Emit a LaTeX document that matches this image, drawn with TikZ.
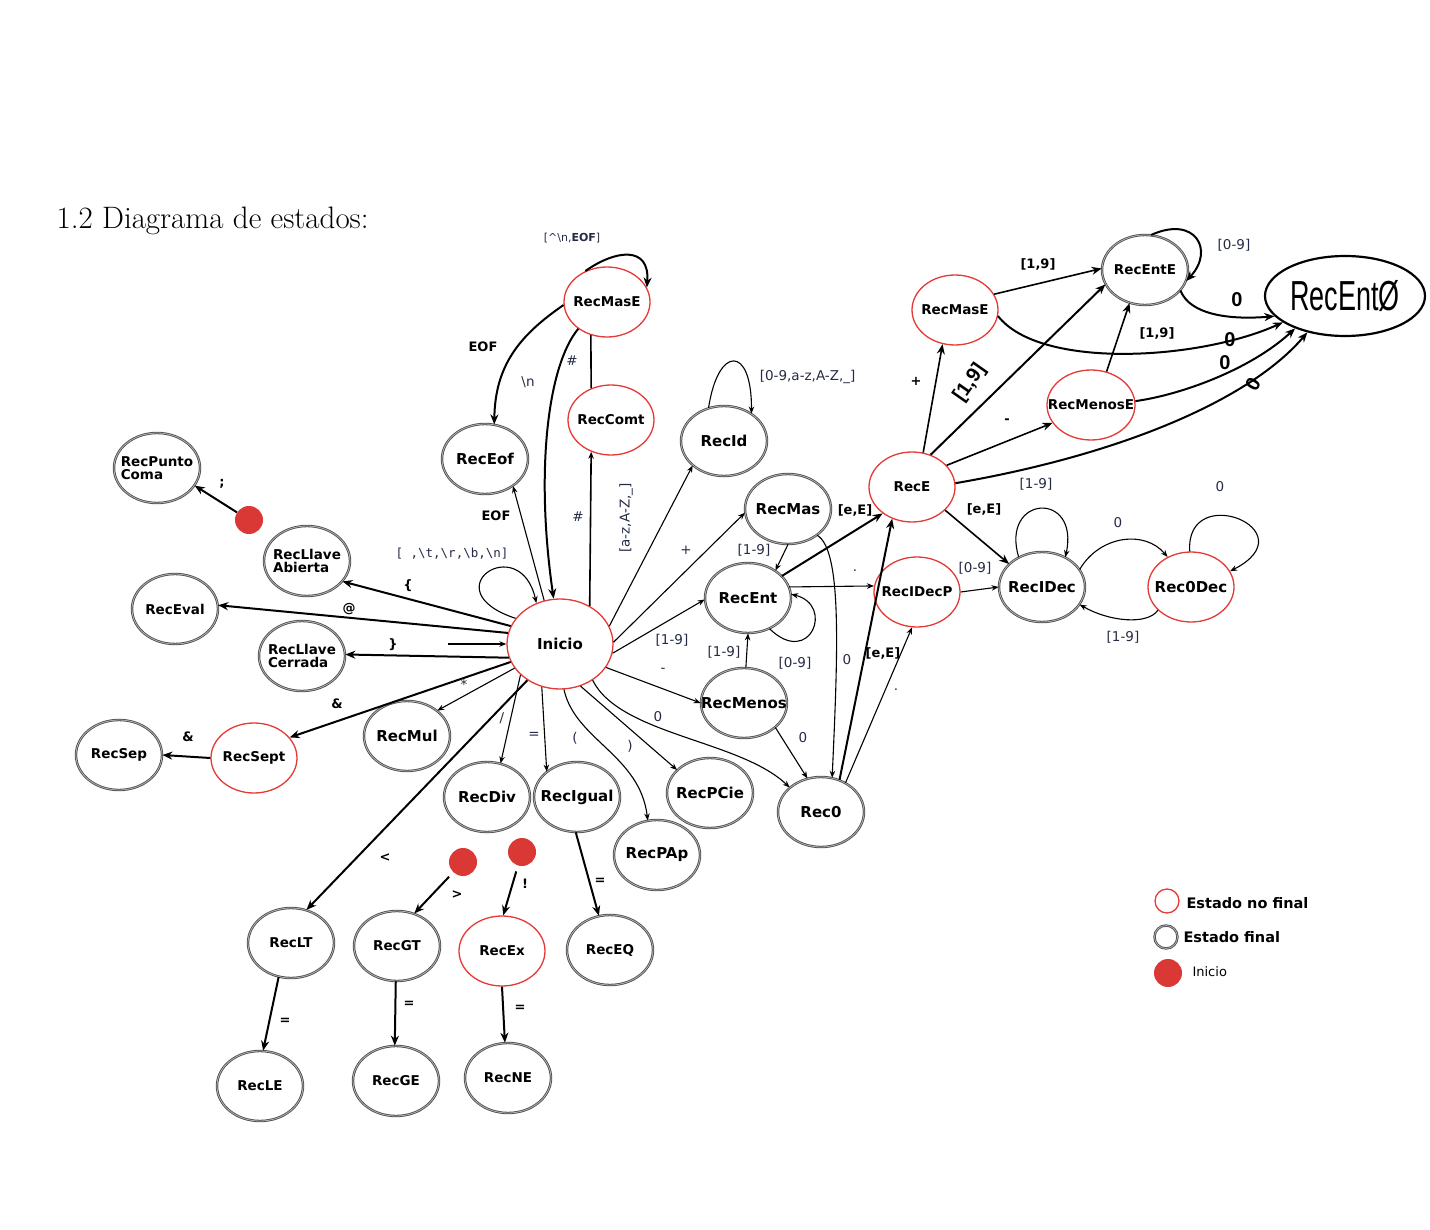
\documentclass[tikz,border=0pt]{standalone}
\usepackage{fontspec}
\usepackage{tikz}
\usetikzlibrary{shapes.geometric,arrows.meta}
\newfontfamily\djv{DejaVu Sans}
\newfontfamily\djvmono{DejaVu Sans Mono}
\newfontfamily\lib{Liberation Sans}
\definecolor{EdoRojo}{HTML}{E53A35}
\definecolor{EdoGris}{HTML}{4A4A4A}
\definecolor{EdoPunto}{HTML}{D93834}
\definecolor{EtqAzul}{HTML}{252B45}

\tikzset{
  estado/.style={ellipse, minimum width=86pt, minimum height=70pt, inner sep=0pt, fill=white,
    font=\djv\bfseries\fontsize{13.5}{16}\selectfont,
    execute at begin node={\hbox to 0pt\bgroup\hss}, execute at end node={\hss\egroup}},
  nofinal/.style={estado, draw=EdoRojo, line width=1.3pt},
  final/.style={estado, draw=EdoGris, double=black!30, double distance=0.8pt, line width=0.8pt},
  grande/.style={font=\djv\bfseries\fontsize{15}{17}\selectfont},
  cero/.style={ellipse, draw, line width=2.2pt, minimum width=160pt, minimum height=80pt, inner sep=0pt},
  punto/.style={circle, fill=EdoPunto, minimum size=28pt, inner sep=0pt},
  arr/.style={line width=1.1pt, -{Stealth[length=7pt,width=5.5pt]}},
  arrb/.style={line width=2pt, -{Stealth[length=10pt,width=8pt]}},
  lbl/.style={text=EtqAzul, font=\djv\fontsize{13.5}{15}\selectfont},
  lblb/.style={font=\djv\bfseries\fontsize{13}{15}\selectfont},
  mano/.style={font=\lib\bfseries\fontsize{20}{22}\selectfont},
  leyenda/.style={anchor=west, font=\djv\bfseries\fontsize{14.5}{16}\selectfont}
}

\begin{document}
\begin{tikzpicture}[x=1pt,y=-1pt]
\path[use as bounding box] (0,0) rectangle (1430,1230);
\node[anchor=base west, font=\fontsize{31}{33}\selectfont] (titulo) at (53,229) {1.2 Diagrama de estados:};

\node[nofinal] (cmt) at (607,302) {RecMasE};
\node[nofinal] (comt) at (611,420) {RecComt};
\node[final, grande] (eof) at (485,459) {RecEof};
\node[final, grande] (recid) at (724,441) {RecId};
\node[final] (punto) at (157,468) {\shortstack[l]{RecPunto\\Coma}};
\node[final] (llab) at (307,561) {\shortstack[l]{RecLlave\\Abierta}};
\node[final] (eval) at (175,609) {RecEval};
\node[final] (llce) at (302,656) {\shortstack[l]{RecLlave\\Cerrada}};
\node[nofinal, grande, minimum width=106pt, minimum height=90pt] (ini) at (560,644) {Inicio};
\node[final, grande] (mas) at (788,509) {RecMas};
\node[final, grande] (ent) at (748,598) {RecEnt};
\node[final, grande] (menos) at (744,703) {RecMenos};
\node[nofinal] (rece) at (912,487) {RecE};
\node[nofinal] (decp) at (917,592) {RecIDecP};
\node[final, grande] (idec) at (1042,587) {RecIDec};
\node[nofinal, grande] (odec) at (1191,587) {Rec0Dec};
\node[nofinal] (mase) at (955,310) {RecMasE};
\node[final] (ente) at (1145,270) {RecEntE};
\node[nofinal, minimum width=88pt] (menose) at (1091,405) {RecMenosE};
\node[cero] (ent0) at (1345,296) {\scalebox{0.9}[1.4]{\lib\fontsize{30}{30}\selectfont RecEntØ}};
\node[final] (sep) at (119,755) {RecSep};
\node[nofinal] (sept) at (254,758) {RecSept};
\node[final, grande] (mul) at (407,736) {RecMul};
\node[final, grande] (div) at (487,797) {RecDiv};
\node[final, grande] (igual) at (577,797) {RecIgual};
\node[final, grande] (pcie) at (710,793) {RecPCie};
\node[final, grande] (pap) at (657,855) {RecPAp};
\node[final, grande] (rec0) at (821,812) {Rec0};
\node[final] (lt) at (291,943) {RecLT};
\node[final] (gt) at (397,946) {RecGT};
\node[nofinal] (ex) at (502,951) {RecEx};
\node[final] (eq) at (610,950) {RecEQ};
\node[final] (le) at (260,1086) {RecLE};
\node[final] (ge) at (396,1081) {RecGE};
\node[final] (ne) at (508,1078) {RecNE};

\node[punto] (p1) at (249,520) {};
\node[punto] (p2) at (463,862) {};
\node[punto] (p3) at (522,852) {};
\coordinate (entrada) at (448,644);

\draw[arrb] (cmt.125) .. controls (615,250) and (650,245) .. (cmt.20) node[lbl, at={(572,238)}, font=\djv\fontsize{11}{13}\selectfont] {[\textasciicircum\textbackslash n,\textbf{EOF}]};
\draw[arrb] (cmt.184) .. controls (520,335) and (495,365) .. (eof.75) node[lblb, at={(483,347)}] {EOF};
\draw[arrb] (cmt.223) .. controls (548,365) and (535,470) .. (ini.98) node[lbl, at={(528,382)}] {\textbackslash n};
\draw[line width=1.6pt] (comt.122) -- (cmt.244) node[lbl, at={(572,361)}] {\#};
\draw[arr, line width=1.6pt] (ini.52) -- (comt.238) node[lbl, at={(578,517)}] {\#};
\draw[arr] (ini.110) -- (eof.316) node[lblb, at={(496,516)}] {EOF};
\draw[arr] (ini.150) .. controls (430,590) and (520,530) .. (ini.120) node[at={(452,554)}, text=EtqAzul, font=\djvmono\fontsize{12.5}{14}\selectfont] {[ ,\textbackslash t,\textbackslash r,\textbackslash b,\textbackslash n]};
\draw[arr] (ini.20) -- (recid.218) node[lbl, rotate=90, at={(626,518)}] {[a-z,A-Z,\_]};
\draw[arr] (recid.115) .. controls (718,345) and (752,345) .. (recid.45) node[lbl, anchor=west, at={(756,377)}] {[0-9,a-z,A-Z,\_]};
\draw[arr] (ini.2) -- (mas.185) node[lbl, at={(686,550)}] {+};
\draw[arr] (ini.350) -- (ent.182) node[lbl, at={(672,640)}] {[1-9]};
\draw[arr] (ini.333) -- (menos.180) node[lbl, at={(663,670)}] {-};
\draw[arr] (ini.312) .. controls (620,735) and (740,740) .. (rec0.142) node[lbl, at={(658,717)}] {0};
\draw[arr] (ini.296) -- (pcie.145) node[lbl, at={(630,746)}] {)};
\draw[arr] (ini.275) .. controls (575,740) and (640,755) .. (pap.105) node[lbl, at={(575,738)}] {(};
\draw[arr] (ini.247) -- (igual.140) node[lbl, at={(534,735)}] {=};
\draw[arr] (ini.218) -- (div.68) node[lbl, at={(502,718)}] {/};
\draw[arr] (ini.208) -- (mul.40) node[lbl, at={(464,684)}] {*};
\draw[arrb] (ini.200) -- (sept.30) node[lblb, at={(337,704)}] {\&};
\draw[arrb] (sept.180) -- (sep.0) node[lblb, at={(188,737)}] {\&};
\draw[arrb] (ini.228) -- (lt.65) node[lblb, at={(385,858)}] {<};
\draw[arrb] (ini.195) -- (llce.2) node[lblb, at={(393,645)}] {\}};
\draw[arrb] (ini.168) -- (eval.5) node[lblb, at={(349,609)}] {@};
\draw[arrb] (ini.160) -- (llab.330) node[lblb, at={(408,586)}] {\{};
\draw[arr] (entrada) -- (ini.180);
\draw[arrb] (p1) -- (punto.335) node[lblb, at={(222,484)}] {;};
\draw[arrb, shorten <=6pt] (p2) -- (gt.62) node[lblb, at={(457,895)}] {>};
\draw[arrb, shorten <=6pt] (p3) -- (ex.88) node[lblb, at={(525,884)}] {!};
\draw[arrb] (igual.268) -- (eq.108) node[lblb, at={(600,881)}] {=};
\draw[arrb] (lt.250) -- (le.85) node[lblb, at={(285,1021)}] {=};
\draw[arrb] (gt.268) -- (ge.92) node[lblb, at={(409,1004)}] {=};
\draw[arrb] (ex.270) -- (ne.95) node[lblb, at={(520,1008)}] {=};
\draw[arr] (mas.270) -- (ent.45) node[lbl, at={(754,550)}] {[1-9]};
\draw[arr] (menos.87) -- (ent.270) node[lbl, at={(724,652)}] {[1-9]};
\draw[arr] (ent.305) .. controls (810,668) and (835,605) .. (ent.5) node[lbl, at={(795,663)}] {[0-9]};
\draw[arrb] (ent.33) -- (rece.222) node[lblb, at={(855,510)}] {[e,E]};
\draw[arr] (ent.15) -- (decp.172) node[lbl, at={(855,571)}] {.};
\draw[arr] (mas.318) .. controls (842,550) and (838,650) .. (rec0.72) node[lbl, at={(847,660)}] {0};
\draw[arr] (menos.322) -- (rec0.112) node[lbl, at={(803,738)}] {0};
\draw[arrb] (rec0.60) -- (rece.238) node[lblb, at={(883,653)}] {[e,E]};
\draw[arr] (rec0.50) -- (decp.262) node[lbl, at={(896,690)}] {.};
\draw[arrb, line width=1.6pt] (rece.72) -- (mase.250) node[lblb, at={(916,381)}] {+};
\draw[arrb] (rece.60) -- (ente.200) node[mano, rotate=55, at={(970,383)}] {[1,9]};
\draw[arrb, line width=1.6pt] (rece.32) -- (menose.205) node[lblb, at={(1007,421)}] {-};
\draw[arrb] (rece.5) .. controls (1120,455) and (1250,400) .. (ent0.224) node[mano, rotate=60, at={(1253,384)}] {0};
\draw[arrb, line width=1.6pt] (rece.325) -- (idec.145) node[lblb, at={(984,509)}] {[e,E]};
\draw[arr] (decp.0) -- (idec.180) node[lbl, at={(975,568)}] {[0-9]};
\draw[arr] (idec.128) .. controls (1000,495) and (1080,490) .. (idec.52) node[lbl, at={(1036,484)}] {[1-9]};
\draw[arr] (idec.25) .. controls (1100,535) and (1145,530) .. (odec.128) node[lbl, at={(1118,523)}] {0};
\draw[arr] (odec.215) .. controls (1148,625) and (1110,622) .. (idec.335) node[lbl, at={(1123,637)}] {[1-9]};
\draw[arr] (odec.92) .. controls (1185,480) and (1310,530) .. (odec.22) node[lbl, at={(1220,487)}] {0};
\draw[arrb, line width=1.6pt] (mase.22) -- (ente.178) node[lblb, at={(1038,264)}] {[1,9]};
\draw[arrb] (mase.352) .. controls (1040,370) and (1200,360) .. (ent0.203) node[mano, at={(1230,340)}] {0};
\draw[arrb, line width=1.6pt] (menose.65) -- (ente.245) node[lblb, at={(1157,333)}] {[1,9]};
\draw[arrb] (menose.5) .. controls (1180,395) and (1250,370) .. (ent0.213) node[mano, at={(1225,363)}] {0};
\draw[arrb] (ente.80) .. controls (1195,215) and (1215,250) .. (ente.345) node[lbl, at={(1234,245)}] {[0-9]};
\draw[arrb] (ente.330) .. controls (1190,315) and (1230,320) .. (ent0.196) node[mano, at={(1237,300)}] {0};

\node[nofinal, circle, minimum size=24pt] (ley1) at (1167,901) {};
\node[final, circle, minimum size=23pt] (ley2) at (1166,937) {};
\node[punto] (ley3) at (1168,973) {};
\node[leyenda] (tley1) at (1183,903) {Estado no final};
\node[leyenda] (tley2) at (1180,937) {Estado final};
\node[anchor=west, font=\djv\fontsize{13}{15}\selectfont] (tley3) at (1189,972) {Inicio};
\end{tikzpicture}
\end{document}
